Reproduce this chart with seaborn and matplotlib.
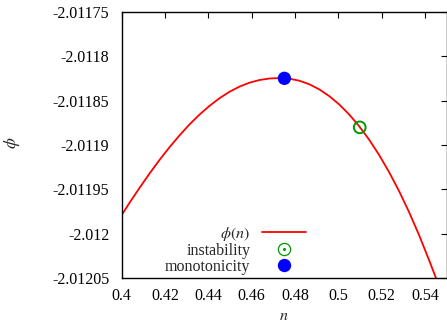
import matplotlib
matplotlib.use("Agg")
import matplotlib.pyplot as plt
import seaborn as sns
from matplotlib.lines import Line2D
from matplotlib.legend_handler import HandlerTuple
from matplotlib.ticker import FixedLocator, FormatStrFormatter

# curve phi(n)
n_vals = [0.40000, 0.40382, 0.40842, 0.41302, 0.41762, 0.42222, 0.42682,
          0.43142, 0.43602, 0.44062, 0.44523, 0.44983, 0.45443, 0.45903,
          0.46363, 0.46823, 0.47283, 0.47822, 0.48204, 0.48664, 0.49124,
          0.49584, 0.50044, 0.50504, 0.50964, 0.51424, 0.51884, 0.52344,
          0.52804, 0.53264, 0.53724, 0.54184, 0.54540]
phi_vals = [-2.0119790, -2.0119644, -2.0119477, -2.0119316, -2.0119163,
            -2.0119021, -2.0118888, -2.0118765, -2.0118655, -2.0118557,
            -2.0118471, -2.0118399, -2.0118341, -2.0118297, -2.0118267,
            -2.0118250, -2.0118245, -2.0118256, -2.0118275, -2.0118315,
            -2.0118373, -2.0118449, -2.0118543, -2.0118656, -2.0118788,
            -2.0118940, -2.0119112, -2.0119305, -2.0119519, -2.0119755,
            -2.0120013, -2.0120294, -2.0120520]

instab_n = [0.5099]
instab_phi = [-2.0118801]
mono_n = [0.4751]
mono_phi = [-2.0118248]

xticks = [0.40, 0.42, 0.44, 0.46, 0.48, 0.50, 0.52, 0.54]
yticks = [-2.01205, -2.0120, -2.01195, -2.0119, -2.01185, -2.0118, -2.01175]

sns.set_style("white")
plt.rcParams["font.family"] = ["Liberation Serif", "DejaVu Serif"]
plt.rcParams["mathtext.fontset"] = "stix"
plt.rcParams["axes.unicode_minus"] = False
fs = 11.5

green = "#009a00"

fig = plt.figure(figsize=(4.47, 3.25), dpi=100)
ax = fig.add_axes([121.7 / 447, 1 - 278 / 325, (446.6 - 121.7) / 447, (278 - 12) / 325])

sns.lineplot(x=n_vals, y=phi_vals, ax=ax, color="red", linewidth=1.3, sort=False)
sns.scatterplot(x=instab_n, y=instab_phi, ax=ax, marker="o", s=71, facecolor="none",
                edgecolor=green, linewidth=1.4, zorder=3)
sns.scatterplot(x=instab_n, y=instab_phi, ax=ax, marker="o", s=2, color=green,
                edgecolor="none", zorder=3)
sns.scatterplot(x=mono_n, y=mono_phi, ax=ax, marker="o", s=92, color="blue",
                edgecolor="none", zorder=4)

ax.set_xlim(0.4, 0.55)
ax.set_ylim(-2.01205, -2.01175)
ax.xaxis.set_major_locator(FixedLocator(xticks))
ax.yaxis.set_major_locator(FixedLocator(yticks))
ax.xaxis.set_major_formatter(FormatStrFormatter("%g"))
ax.yaxis.set_major_formatter(FormatStrFormatter("%g"))
ax.tick_params(direction="in", length=4, width=0.8, top=True, right=True,
               labelsize=fs, colors="black", pad=7)
ax.tick_params(axis="y", pad=9)
for sp in ax.spines.values():
    sp.set_color("black")
    sp.set_linewidth(1.0)

ax.set_xlabel("$n$", fontsize=fs)
ax.set_ylabel("$\\phi$", fontsize=fs + 1)
ax.xaxis.set_label_coords(0.5, -0.112)
ax.yaxis.set_label_coords(-0.308, 0.507)

h_line = Line2D([], [], color="red", linewidth=1.3)
h_ring = Line2D([], [], marker="o", linestyle="none", markersize=8.8,
                markerfacecolor="none", markeredgecolor=green, markeredgewidth=0.9)
h_dot = Line2D([], [], marker="o", linestyle="none", markersize=1.2, color=green)
h_blue = Line2D([], [], marker="o", linestyle="none", markersize=9.6,
                color="blue", markeredgewidth=0)
leg = ax.legend([h_line, (h_ring, h_dot), h_blue],
                ["$\\phi(n)$", "instability", "monotonicity"],
                handler_map={tuple: HandlerTuple(ndivide=1, pad=0)},
                loc="upper right", bbox_to_anchor=(305.5 / 447, 1 - 225 / 325),
                bbox_transform=fig.transFigure, frameon=False, markerfirst=False,
                fontsize=fs, handlelength=2.7, handletextpad=0.75,
                labelspacing=0.0, borderpad=0, borderaxespad=0)

fig.savefig("out.png", dpi=100)
